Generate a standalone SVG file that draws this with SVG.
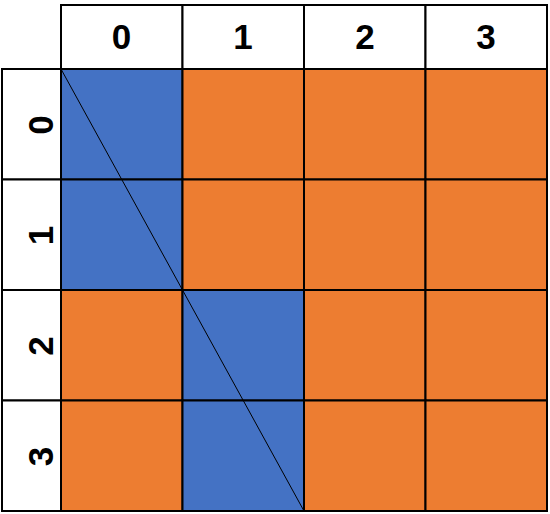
<svg xmlns="http://www.w3.org/2000/svg" width="550" height="514" viewBox="0 0 550 514">
<style>
.b{fill:#4472C4;stroke:#000;stroke-width:2}
.o{fill:#ED7D31;stroke:#000;stroke-width:2}
.h{fill:#fff;stroke:#000;stroke-width:2}
.t{font-family:"Liberation Sans",Arial,sans-serif;font-size:35px;font-weight:bold;text-anchor:middle;fill:#000}
</style>
<rect width="550" height="514" fill="#fff"/>
<g id="colhead">
<rect class="h" x="61" y="5" width="121.5" height="64"/>
<rect class="h" x="182.5" y="5" width="121.5" height="64"/>
<rect class="h" x="304" y="5" width="121.5" height="64"/>
<rect class="h" x="425.5" y="5" width="121.5" height="64"/>
<text class="t" x="121.5" y="49">0</text>
<text class="t" x="243" y="49">1</text>
<text class="t" x="365" y="49">2</text>
<text class="t" x="486" y="49">3</text>
</g>
<g id="rowhead">
<rect class="h" x="2" y="69" width="59" height="110.5"/>
<rect class="h" x="2" y="179.5" width="59" height="110.5"/>
<rect class="h" x="2" y="290" width="59" height="110.5"/>
<rect class="h" x="2" y="400.5" width="59" height="110.5"/>
<text class="t" transform="translate(53,125) rotate(-90)">0</text>
<text class="t" transform="translate(53,235.5) rotate(-90)">1</text>
<text class="t" transform="translate(53,346) rotate(-90)">2</text>
<text class="t" transform="translate(53,456.5) rotate(-90)">3</text>
</g>
<g id="cells">
<rect class="b" x="61" y="69" width="121.5" height="110.5"/>
<rect class="o" x="182.5" y="69" width="121.5" height="110.5"/>
<rect class="o" x="304" y="69" width="121.5" height="110.5"/>
<rect class="o" x="425.5" y="69" width="121.5" height="110.5"/>
<rect class="b" x="61" y="179.5" width="121.5" height="110.5"/>
<rect class="o" x="182.5" y="179.5" width="121.5" height="110.5"/>
<rect class="o" x="304" y="179.5" width="121.5" height="110.5"/>
<rect class="o" x="425.5" y="179.5" width="121.5" height="110.5"/>
<rect class="o" x="61" y="290" width="121.5" height="110.5"/>
<rect class="b" x="182.5" y="290" width="121.5" height="110.5"/>
<rect class="o" x="304" y="290" width="121.5" height="110.5"/>
<rect class="o" x="425.5" y="290" width="121.5" height="110.5"/>
<rect class="o" x="61" y="400.5" width="121.5" height="110.5"/>
<rect class="b" x="182.5" y="400.5" width="121.5" height="110.5"/>
<rect class="o" x="304" y="400.5" width="121.5" height="110.5"/>
<rect class="o" x="425.5" y="400.5" width="121.5" height="110.5"/>
</g>
<g id="connectors">
<line x1="61" y1="69" x2="304" y2="511" stroke="#000" stroke-width="1"/>
</g>
</svg>
